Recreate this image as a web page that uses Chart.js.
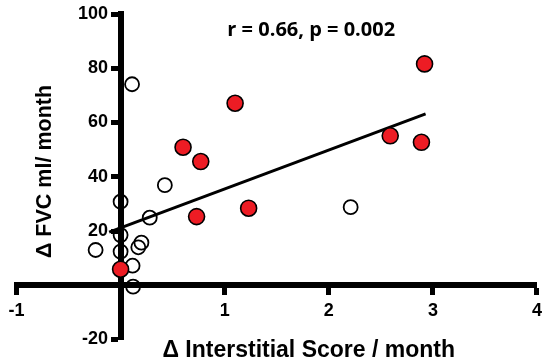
<!DOCTYPE html>
<html>
<head>
<meta charset="utf-8">
<script src="https://cdn.jsdelivr.net/npm/chart.js@4.4.1/dist/chart.umd.min.js"></script>
<style>
    html, body { margin: 0; padding: 0; background: #fff; }
</style>
</head>
<body>
<canvas id="myChart" width="550" height="364"></canvas>
<script>
// open circles
const openX = [0.11, 0.425, 0, 0.28, 0, 0.2, 0.17, -0.24, 0, 0.115, 0.12, 2.21];
const openY = [74.1, 36.9, 30.8, 24.9, 18.5, 15.7, 14.0, 13.0, 12.4, 7.2, -0.5, 28.8];

// filled red circles
const redX = [0, 0.73, 1.23, 0.6, 0.77, 1.1, 2.92, 2.59, 2.89];
const redY = [5.9, 25.3, 28.4, 50.9, 45.6, 67.1, 81.6, 55.1, 52.7];

// regression line end points
const fitX = [-0.11, 2.93];
const fitY = [19.6, 63.2];

const xTicks = [-1, 1, 2, 3, 4];
const yTicks = [-20, 20, 40, 60, 80, 100];

const xTitle = 'Δ Interstitial Score / month';
const yTitle = 'Δ FVC ml/ month';
const statsText = 'r = 0.66, p = 0.002';

const toPoints = (xs, ys) => xs.map((v, i) => ({ x: v, y: ys[i] }));

const arial = 'Liberation Sans, Arial, sans-serif';
const tickFont = { family: arial, size: 18, weight: 'bold' };

// axes that only hold space / titles
const blank = {
    ticks: { display: false },
    grid: { display: false },
    border: { display: false }
};

let ctx = document.getElementById('myChart').getContext('2d');

let myChart = new Chart(ctx, {
    type: 'scatter',
    data: {
        datasets: [{
            label: 'fit',
            type: 'line',
            data: toPoints(fitX, fitY),
            borderColor: '#000',
            borderWidth: 3,
            pointRadius: 0,
            fill: false,
            order: 3
        }, {
            label: 'open',
            data: toPoints(openX, openY),
            backgroundColor: 'rgba(0,0,0,0)',
            borderColor: '#000',
            borderWidth: 1.8,
            pointRadius: 7,
            order: 2
        }, {
            label: 'red',
            data: toPoints(redX, redY),
            backgroundColor: '#ed1c24',
            borderColor: '#000',
            borderWidth: 1.6,
            pointRadius: 8,
            order: 1
        }]
    },
    options: {
        responsive: false,
        animation: false,
        layout: {
            padding: { left: 0, right: 12.5, top: 14, bottom: 0 }
        },
        plugins: {
            legend: { display: false },
            tooltip: { enabled: false }
        },
        scales: {
            x: {
                type: 'linear',
                position: { y: 0 },
                min: -1,
                max: 4,
                afterFit: (s) => { s.height = 0; },
                afterBuildTicks: (s) => { s.ticks = xTicks.map(v => ({ value: v })); },
                border: { color: '#000', width: 6 },
                grid: { drawOnChartArea: false, color: '#000', tickLength: 7, tickWidth: 5 },
                ticks: { color: '#000', font: tickFont, padding: 8 }
            },
            y: {
                type: 'linear',
                position: { x: 0 },
                min: -20,
                max: 100,
                afterFit: (s) => { s.width = 0; },
                afterBuildTicks: (s) => { s.ticks = yTicks.map(v => ({ value: v })); },
                border: { color: '#000', width: 6 },
                grid: { drawOnChartArea: false, color: '#000', tickLength: 7, tickWidth: 5 },
                ticks: { display: false }
            },
            // tick labels of the y axis, set just left of the tick marks
            yTickLabels: {
                type: 'linear',
                position: { x: -0.12 },
                min: -20,
                max: 100,
                afterFit: (s) => { s.width = 0; },
                afterBuildTicks: (s) => { s.ticks = yTicks.map(v => ({ value: v })); },
                grid: { display: false },
                border: { display: false },
                ticks: { color: '#000', font: tickFont }
            },
            // left stack: the later one is placed first (top)
            yPad: {
                ...blank,
                type: 'linear',
                position: 'left',
                stack: 'ytitle',
                stackWeight: 10.5,
                afterFit: (s) => { s.width = 16.5; }
            },
            yLabel: {
                ...blank,
                type: 'linear',
                position: 'left',
                stack: 'ytitle',
                stackWeight: 315,
                afterFit: (s) => { s.width = 16.5; },
                title: {
                    display: true,
                    text: yTitle,
                    color: '#000',
                    font: { family: arial, size: 21.5, weight: 'bold' },
                    padding: { top: 32, bottom: 0 }
                }
            },
            // top stack holds the r / p note, also placed in reverse order
            stats: {
                ...blank,
                type: 'linear',
                position: 'top',
                stack: 'stats',
                stackWeight: 452,
                afterFit: (s) => { s.height = 0; },
                title: {
                    display: true,
                    text: statsText,
                    color: '#000',
                    font: { family: 'Open Sans', size: 20, weight: 'bold' },
                    padding: { top: 4, bottom: 0 }
                }
            },
            statsPad: {
                ...blank,
                type: 'linear',
                position: 'top',
                stack: 'stats',
                stackWeight: 69,
                afterFit: (s) => { s.height = 0; }
            },
            xPad: {
                ...blank,
                type: 'linear',
                position: 'bottom',
                stack: 'xtitle',
                stackWeight: 64,
                afterFit: (s) => { s.height = 24.5; }
            },
            xLabel: {
                ...blank,
                type: 'linear',
                position: 'bottom',
                stack: 'xtitle',
                stackWeight: 457,
                afterFit: (s) => { s.height = 24.5; },
                title: {
                    display: true,
                    text: xTitle,
                    color: '#000',
                    font: { family: arial, size: 23, weight: 'bold' },
                    padding: { top: 0, bottom: 0 }
                }
            }
        }
    }
});
</script>
</body>
</html>
